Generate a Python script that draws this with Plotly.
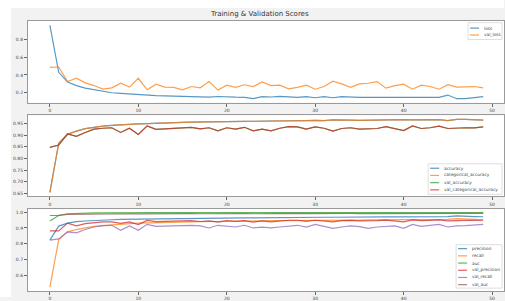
import plotly.graph_objects as go

epochs = list(range(50))

loss = [0.96, 0.43, 0.32, 0.28, 0.252, 0.232, 0.213, 0.2, 0.193, 0.186,
        0.176, 0.171, 0.167, 0.164, 0.161, 0.157, 0.154, 0.153, 0.151, 0.158,
        0.152, 0.15, 0.149, 0.135, 0.156, 0.152, 0.16, 0.152, 0.148, 0.156,
        0.144, 0.156, 0.144, 0.156, 0.148, 0.148, 0.149, 0.148, 0.151, 0.145,
        0.145, 0.151, 0.148, 0.145, 0.148, 0.174, 0.133, 0.134, 0.144, 0.156]
val_loss = [0.486, 0.49, 0.326, 0.363, 0.311, 0.281, 0.241, 0.255, 0.307, 0.263,
            0.363, 0.233, 0.296, 0.263, 0.26, 0.233, 0.27, 0.255, 0.326, 0.23,
            0.285, 0.26, 0.29, 0.27, 0.322, 0.281, 0.285, 0.244, 0.26, 0.285,
            0.24, 0.27, 0.33, 0.3, 0.26, 0.3, 0.307, 0.326, 0.252, 0.281,
            0.296, 0.24, 0.285, 0.27, 0.24, 0.29, 0.263, 0.267, 0.27, 0.255]

accuracy = [0.654, 0.865, 0.903, 0.917, 0.927, 0.934, 0.938, 0.941, 0.944, 0.946,
            0.948, 0.949, 0.951, 0.952, 0.953, 0.954, 0.955, 0.955, 0.956, 0.956,
            0.957, 0.957, 0.958, 0.959, 0.959, 0.96, 0.961, 0.961, 0.962, 0.962,
            0.963, 0.962, 0.965, 0.963, 0.964, 0.963, 0.964, 0.964, 0.965, 0.965,
            0.966, 0.965, 0.965, 0.965, 0.966, 0.962, 0.967, 0.967, 0.966, 0.964]
categorical_accuracy = list(accuracy)
val_accuracy = [0.847, 0.857, 0.905, 0.894, 0.911, 0.925, 0.929, 0.931, 0.911, 0.929,
                0.902, 0.939, 0.924, 0.926, 0.928, 0.929, 0.933, 0.926, 0.931, 0.918,
                0.931, 0.925, 0.933, 0.918, 0.925, 0.918, 0.929, 0.936, 0.935, 0.925,
                0.935, 0.929, 0.917, 0.928, 0.931, 0.925, 0.925, 0.928, 0.936, 0.926,
                0.919, 0.939, 0.928, 0.931, 0.938, 0.928, 0.931, 0.931, 0.931, 0.935]
val_categorical_accuracy = list(val_accuracy)

precision = [0.823, 0.912, 0.931, 0.94, 0.944, 0.948, 0.95, 0.952, 0.954, 0.955,
             0.956, 0.957, 0.958, 0.959, 0.959, 0.96, 0.961, 0.961, 0.962, 0.962,
             0.963, 0.963, 0.964, 0.964, 0.965, 0.965, 0.966, 0.966, 0.967, 0.967,
             0.968, 0.968, 0.968, 0.969, 0.969, 0.969, 0.969, 0.97, 0.97, 0.97,
             0.97, 0.97, 0.971, 0.971, 0.971, 0.972, 0.976, 0.976, 0.972, 0.971]
recall = [0.525, 0.827, 0.875, 0.89, 0.9, 0.91, 0.915, 0.92, 0.924, 0.927,
          0.93, 0.932, 0.934, 0.935, 0.937, 0.938, 0.939, 0.94, 0.941, 0.941,
          0.942, 0.943, 0.944, 0.944, 0.945, 0.946, 0.946, 0.947, 0.947, 0.948,
          0.948, 0.949, 0.949, 0.95, 0.95, 0.95, 0.951, 0.951, 0.951, 0.952,
          0.952, 0.952, 0.953, 0.953, 0.953, 0.955, 0.959, 0.959, 0.955, 0.952]
auc = [0.944, 0.979, 0.99, 0.993, 0.994, 0.995, 0.995, 0.996, 0.996, 0.996,
       0.996, 0.996, 0.997, 0.997, 0.997, 0.997, 0.997, 0.997, 0.997, 0.997,
       0.997, 0.997, 0.997, 0.997, 0.997, 0.997, 0.997, 0.997, 0.997, 0.997,
       0.997, 0.997, 0.997, 0.997, 0.997, 0.997, 0.997, 0.997, 0.997, 0.997,
       0.997, 0.997, 0.997, 0.997, 0.997, 0.997, 0.997, 0.997, 0.997, 0.997]
val_precision = [0.881, 0.881, 0.931, 0.913, 0.927, 0.933, 0.938, 0.938, 0.929, 0.938,
                 0.921, 0.948, 0.94, 0.942, 0.943, 0.944, 0.946, 0.941, 0.945, 0.937,
                 0.946, 0.942, 0.947, 0.937, 0.945, 0.938, 0.945, 0.949, 0.949, 0.942,
                 0.949, 0.945, 0.938, 0.946, 0.948, 0.945, 0.944, 0.946, 0.95, 0.945,
                 0.939, 0.951, 0.946, 0.948, 0.951, 0.945, 0.948, 0.948, 0.948, 0.949]
val_recall = [0.823, 0.831, 0.875, 0.869, 0.89, 0.906, 0.915, 0.917, 0.885, 0.913,
              0.885, 0.923, 0.91, 0.91, 0.913, 0.915, 0.917, 0.913, 0.9, 0.917,
              0.913, 0.906, 0.917, 0.9, 0.905, 0.9, 0.906, 0.913, 0.917, 0.906,
              0.923, 0.91, 0.898, 0.906, 0.913, 0.908, 0.898, 0.906, 0.91, 0.913,
              0.898, 0.923, 0.91, 0.917, 0.923, 0.906, 0.913, 0.915, 0.917, 0.923]
val_auc = [0.979, 0.98, 0.986, 0.987, 0.988, 0.989, 0.989, 0.989, 0.988, 0.99,
           0.989, 0.99, 0.99, 0.99, 0.991, 0.991, 0.991, 0.99, 0.991, 0.99,
           0.991, 0.991, 0.991, 0.99, 0.991, 0.991, 0.991, 0.991, 0.992, 0.991,
           0.992, 0.991, 0.99, 0.991, 0.992, 0.991, 0.991, 0.991, 0.992, 0.991,
           0.99, 0.992, 0.991, 0.992, 0.992, 0.991, 0.992, 0.992, 0.992, 0.992]

title_text = "Training & Validation Scores"
x_ticks = [0, 10, 20, 30, 40, 50]
y1_ticks = [0.2, 0.4, 0.6, 0.8]
y2_ticks = [0.65, 0.70, 0.75, 0.80, 0.85, 0.90, 0.95]
y3_ticks = [0.6, 0.7, 0.8, 0.9, 1.0]

TAB = ["#1f77b4", "#ff7f0e", "#2ca02c", "#d62728", "#9467bd", "#8c564b"]
W, H = 505, 301

panels = [
    ("y", [("loss", loss), ("val_loss", val_loss)]),
    ("y2", [("accuracy", accuracy), ("categorical_accuracy", categorical_accuracy),
            ("val_accuracy", val_accuracy), ("val_categorical_accuracy", val_categorical_accuracy)]),
    ("y3", [("precision", precision), ("recall", recall), ("auc", auc),
            ("val_precision", val_precision), ("val_recall", val_recall), ("val_auc", val_auc)]),
]

fig = go.Figure()
for i, (yref, series) in enumerate(panels):
    xref = "x" if i == 0 else f"x{i+1}"
    for j, (name, vals) in enumerate(series):
        fig.add_trace(go.Scatter(x=epochs, y=vals, mode="lines", name=name,
                                 xaxis=xref, yaxis=yref, showlegend=False,
                                 opacity=0.75,
                                 line=dict(color=TAB[j], width=1.2)))

def px_x(p):
    return p / W

def px_y(p):
    return 1 - p / H

font = dict(family="DejaVu Sans", size=4.5, color="#444")
leg_font = dict(family="DejaVu Sans", size=4.3, color="#444")
ax_common = dict(showgrid=False, zeroline=False, showline=True, mirror=True,
                 linecolor="#9a9a9a", linewidth=1, ticks="outside", ticklen=3,
                 tickcolor="#666", tickwidth=0.6, tickfont=font)
xdom = [px_x(28), 1.0]
xr = [-2.48, 51.35]

layout = dict(
    width=W, height=H, margin=dict(l=0, r=0, t=0, b=0),
    paper_bgcolor="#f2f2f2", plot_bgcolor="white",
    xaxis=dict(domain=xdom, range=xr, tickvals=x_ticks, anchor="y", **ax_common),
    xaxis2=dict(domain=xdom, range=xr, tickvals=x_ticks, anchor="y2", **ax_common),
    xaxis3=dict(domain=xdom, range=xr, tickvals=x_ticks, anchor="y3", **ax_common),
    yaxis=dict(domain=[px_y(104), px_y(21)], range=[0.0889, 1.011], tickvals=y1_ticks,
               ticktext=[f"{v:.1f}" for v in y1_ticks], anchor="x", **ax_common),
    yaxis2=dict(domain=[px_y(199), px_y(117)], range=[0.6373, 0.9838], tickvals=y2_ticks,
                ticktext=[f"{v:.2f}" for v in y2_ticks], anchor="x2", **ax_common),
    yaxis3=dict(domain=[px_y(295), px_y(212)], range=[0.5, 1.019], tickvals=y3_ticks,
                ticktext=[f"{v:.1f}" for v in y3_ticks], anchor="x3", **ax_common),
)
fig.update_layout(**layout)

shapes = [
    dict(type="rect", xref="paper", yref="paper", x0=0, x1=1, y0=px_y(8), y1=1,
         fillcolor="white", line=dict(width=0), layer="below"),
    dict(type="rect", xref="paper", yref="paper", x0=0, x1=px_x(11), y0=0, y1=1,
         fillcolor="white", line=dict(width=0), layer="below"),
]
annotations = [
    dict(text=title_text, xref="paper", yref="paper", x=px_x(260), y=px_y(14),
         showarrow=False, xanchor="center", yanchor="middle",
         font=dict(family="DejaVu Sans", size=7, color="#333")),
]

# legends (box position in px, entry rows)
legend_specs = [
    (panels[0][1], 469, 503, 23, 40, 28.5, 7.0),
    (panels[1][1], 429, 503, 166, 197, 170.5, 7.3),
    (panels[2][1], 457, 503, 248, 292, 252.0, 7.3),
]
for series, x0, x1, y0, y1, first, step in legend_specs:
    shapes.append(dict(type="rect", xref="paper", yref="paper",
                       x0=px_x(x0), x1=px_x(min(x1, W - 0.5)), y0=px_y(y1), y1=px_y(y0),
                       fillcolor="rgba(255,255,255,0.9)", line=dict(color="#d6d6d6", width=0.8),
                       layer="above"))
    for j, (name, _) in enumerate(series):
        yy = px_y(first + j * step)
        shapes.append(dict(type="line", xref="paper", yref="paper",
                           x0=px_x(x0 + 2), x1=px_x(x0 + 11), y0=yy, y1=yy,
                           line=dict(color=TAB[j], width=1.2), opacity=0.75, layer="above"))
        annotations.append(dict(text=name, xref="paper", yref="paper",
                                x=px_x(x0 + 13.5), y=yy, showarrow=False,
                                xanchor="left", yanchor="middle", font=leg_font))

fig.update_layout(shapes=shapes, annotations=annotations)
fig.write_html("out.html", config={"displayModeBar": False},
               post_script="document.body.style.margin='0';document.body.style.overflow='hidden';")
